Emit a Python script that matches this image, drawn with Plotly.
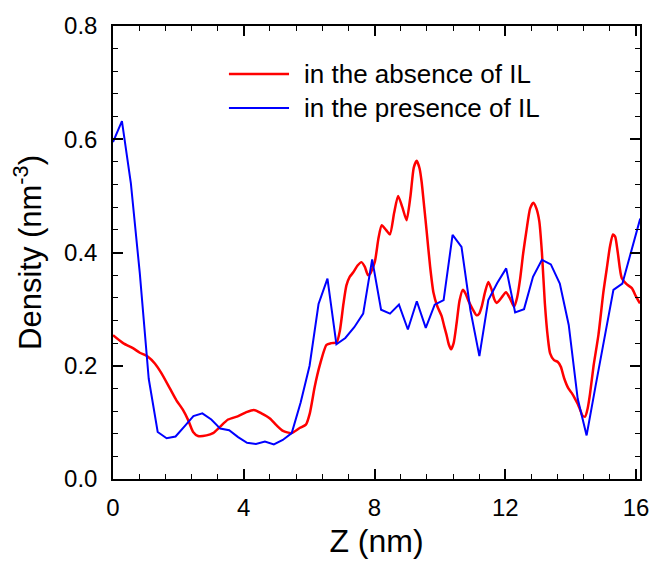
import plotly.graph_objects as go

# Red: in the absence of IL
red_z = [0.00, 0.31, 0.61, 0.82, 1.07, 1.28, 1.48, 1.74, 1.94, 2.14, 2.30, 2.45, 2.60, 2.86,
         3.06, 3.27, 3.52, 3.83, 4.08, 4.31, 4.54, 4.80, 5.00, 5.20, 5.46, 5.71, 5.90, 6.02,
         6.17, 6.33, 6.53, 6.68, 6.84, 6.94, 7.05, 7.14, 7.24, 7.35, 7.48, 7.60, 7.70, 7.80,
         7.86, 8.01, 8.12, 8.22, 8.35, 8.47, 8.60, 8.72, 8.85, 8.98, 9.10, 9.20, 9.29, 9.38,
         9.44, 9.52, 9.59, 9.70, 9.80, 9.92, 10.05, 10.13, 10.20, 10.27, 10.34, 10.42, 10.51,
         10.60, 10.70, 10.78, 10.87, 11.00, 11.12, 11.20, 11.28, 11.38, 11.48, 11.58, 11.66,
         11.74, 11.88, 12.02, 12.15, 12.27, 12.36, 12.45, 12.55, 12.65, 12.76, 12.86, 12.95,
         13.04, 13.12, 13.21, 13.30, 13.37, 13.49, 13.60, 13.70, 13.80, 13.93, 14.03, 14.13,
         14.22, 14.29, 14.36, 14.44, 14.52, 14.59, 14.70, 14.85, 15.00, 15.10, 15.20, 15.29,
         15.36, 15.44, 15.56, 15.71, 15.87, 16.00, 16.12]
red_d = [0.254, 0.240, 0.231, 0.223, 0.216, 0.204, 0.187, 0.160, 0.139, 0.122, 0.104, 0.083, 0.076, 0.077,
         0.081, 0.092, 0.105, 0.111, 0.118, 0.122, 0.116, 0.107, 0.095, 0.085, 0.081, 0.090, 0.096, 0.116,
         0.163, 0.202, 0.237, 0.240, 0.241, 0.262, 0.310, 0.342, 0.357, 0.365, 0.377, 0.383, 0.375, 0.360,
         0.362, 0.384, 0.425, 0.448, 0.440, 0.432, 0.470, 0.500, 0.480, 0.457, 0.500, 0.550, 0.562, 0.548,
         0.525, 0.480, 0.440, 0.375, 0.330, 0.305, 0.288, 0.270, 0.255, 0.238, 0.229, 0.240, 0.275,
         0.315, 0.334, 0.328, 0.315, 0.300, 0.289, 0.292, 0.305, 0.330, 0.348, 0.335, 0.318,
         0.311, 0.320, 0.330, 0.318, 0.304, 0.320, 0.352, 0.400, 0.440, 0.478, 0.488, 0.478,
         0.455, 0.400, 0.310, 0.250, 0.222, 0.210, 0.207, 0.198, 0.178, 0.160, 0.152, 0.142,
         0.132, 0.122, 0.112, 0.110, 0.125, 0.150, 0.200, 0.255, 0.330, 0.370, 0.410, 0.432,
         0.428, 0.400, 0.355, 0.344, 0.337, 0.322, 0.310]

# Blue: in the presence of IL
blue_z = [0.000, 0.273, 0.547, 0.820, 1.093, 1.367, 1.640, 1.913, 2.187, 2.460, 2.733, 3.007,
          3.280, 3.553, 3.827, 4.100, 4.373, 4.647, 4.920, 5.193, 5.467, 5.740, 6.013, 6.287,
          6.560, 6.833, 7.107, 7.380, 7.653, 7.927, 8.200, 8.473, 8.747, 9.020, 9.293, 9.567,
          9.840, 10.113, 10.387, 10.660, 10.933, 11.207, 11.480, 11.753, 12.027, 12.300, 12.573,
          12.847, 13.120, 13.393, 13.667, 13.940, 14.213, 14.487, 14.760, 15.033, 15.307, 15.580,
          15.853, 16.127]
blue_d = [0.595, 0.632, 0.522, 0.363, 0.177, 0.083, 0.072, 0.075, 0.093, 0.111, 0.116, 0.105,
          0.089, 0.086, 0.074, 0.064, 0.062, 0.066, 0.061, 0.069, 0.081, 0.135, 0.200, 0.309,
          0.354, 0.238, 0.249, 0.268, 0.292, 0.388, 0.299, 0.292, 0.308, 0.264, 0.314, 0.267,
          0.308, 0.316, 0.431, 0.410, 0.298, 0.217, 0.316, 0.346, 0.372, 0.294, 0.300,
          0.357, 0.387, 0.379, 0.345, 0.272, 0.142, 0.077, 0.164, 0.250, 0.334, 0.345,
          0.403, 0.460]

names = ["in the absence of IL", "in the presence of IL"]
colors = ["#ff0000", "#0000ff"]
FONT = "Liberation Sans, Arial, sans-serif"

fig = go.Figure()
fig.add_trace(go.Scatter(x=red_z, y=red_d, mode="lines", name=names[0], showlegend=False,
                         line=dict(color=colors[0], width=2.5, shape="spline", smoothing=0.6)))
fig.add_trace(go.Scatter(x=blue_z, y=blue_d, mode="lines", name=names[1], showlegend=False,
                         line=dict(color=colors[1], width=2)))

# Manual legend (line samples + labels), in paper coordinates
leg_y = [0.894, 0.819]
for i, (nm, col) in enumerate(zip(names, colors)):
    fig.add_shape(type="line", xref="paper", yref="paper",
                  x0=0.220, x1=0.334, y0=leg_y[i], y1=leg_y[i],
                  line=dict(color=col, width=2.5 if i == 0 else 2))
    fig.add_annotation(xref="paper", yref="paper", x=0.358, y=leg_y[i],
                       xanchor="left", yanchor="middle", showarrow=False, text=nm,
                       font=dict(family=FONT, size=26, color="black"))

axis_common = dict(showline=True, linecolor="black", linewidth=1.5, mirror="allticks",
                   ticks="inside", ticklen=10, tickwidth=1.5, tickcolor="black",
                   showgrid=False, zeroline=False, automargin=False,
                   tickfont=dict(family=FONT, size=24, color="black"))

fig.update_xaxes(range=[0, 16.12], tickmode="linear", tick0=0, dtick=4,
                 minor=dict(ticks="inside", ticklen=5, dtick=0.8, tickwidth=1.2, tickcolor="black",
                            showgrid=False),
                 title=dict(text="Z (nm)", font=dict(family=FONT, size=32, color="black"), standoff=10),
                 ticklabelstandoff=6, ticklabeloverflow="allow",
                 **axis_common)
fig.update_yaxes(range=[0, 0.8], tickmode="linear", tick0=0, dtick=0.2, tickformat=".1f",
                 minor=dict(ticks="inside", ticklen=5, dtick=0.04, tickwidth=1.2, tickcolor="black",
                            showgrid=False),
                 title=dict(text="Density (nm<sup>-3</sup>)", font=dict(family=FONT, size=31, color="black"),
                            standoff=13),
                 ticklabelstandoff=9,
                 **axis_common)

fig.update_layout(
    width=652, height=564, autosize=False,
    margin=dict(l=113, r=12, t=26, b=85),
    plot_bgcolor="white", paper_bgcolor="white",
    font=dict(family=FONT, color="black"),
)

fig.write_html("out.html", config={"responsive": False})
